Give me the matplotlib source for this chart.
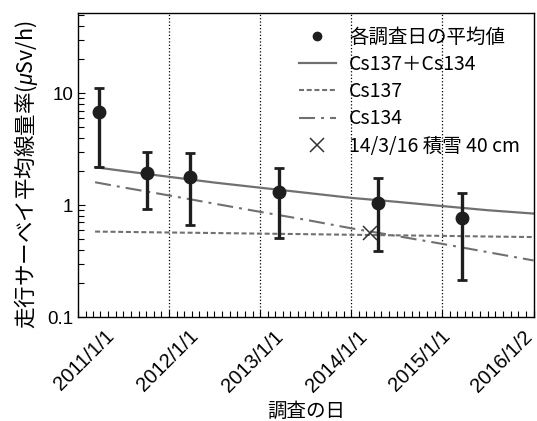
import datetime as dt
import matplotlib
matplotlib.use('Agg')
import matplotlib.pyplot as plt
import matplotlib.dates as mdates
import matplotlib.transforms as mtransforms
from matplotlib.lines import Line2D

plt.rcParams['font.family'] = ['Liberation Sans', 'Noto Sans CJK JP']
plt.rcParams['mathtext.fontset'] = 'custom'
plt.rcParams['mathtext.it'] = 'Liberation Sans:italic'
plt.rcParams['mathtext.rm'] = 'Liberation Sans'

# survey means with min / max
survey_dates = [dt.date(2011, 3, 25), dt.date(2011, 10, 5), dt.date(2012, 3, 24),
                dt.date(2013, 3, 19), dt.date(2014, 4, 19), dt.date(2015, 3, 22)]
survey_mean = [6.8, 1.93, 1.77, 1.31, 1.04, 0.77]
survey_low = [2.2, 0.92, 0.66, 0.51, 0.39, 0.215]
survey_high = [11.2, 3.0, 2.93, 2.16, 1.73, 1.29]

# snow day
snow_date = [dt.date(2014, 3, 16)]
snow_value = [0.56]

# decay curves
curve_dates = [dt.date(2011, 3, 11), dt.date(2011, 7, 1), dt.date(2012, 1, 1),
               dt.date(2012, 7, 1), dt.date(2013, 1, 1), dt.date(2013, 7, 1),
               dt.date(2014, 1, 1), dt.date(2014, 7, 1), dt.date(2015, 1, 1),
               dt.date(2015, 7, 1), dt.date(2016, 1, 1)]
cs_total = [2.18, 2.02, 1.79, 1.59, 1.43, 1.29, 1.16, 1.07, 0.98, 0.90, 0.84]
cs137 = [0.58, 0.576, 0.569, 0.563, 0.556, 0.550, 0.543, 0.537, 0.531, 0.524, 0.518]
cs134 = [1.60, 1.44, 1.22, 1.03, 0.87, 0.74, 0.62, 0.53, 0.45, 0.38, 0.32]

tick_dates = [dt.date(y, 1, 1) for y in range(2011, 2016)] + [dt.date(2016, 1, 2)]
tick_labels = ['2011/1/1', '2012/1/1', '2013/1/1', '2014/1/1', '2015/1/1', '2016/1/2']

fig = plt.figure(figsize=(5.37, 4.21), dpi=100)
ax = fig.add_axes([0.145, 0.247, 0.849, 0.722])

grey = '#707070'
dash137 = (0, (2.4, 1.3))
dash134 = (0, (7.7, 2.9, 1.4, 2.9))
ax.plot(curve_dates, cs_total, color=grey, lw=1.6, ls='-')
ax.plot(curve_dates, cs137, color=grey, lw=1.5, ls=dash137)
ax.plot(curve_dates, cs134, color=grey, lw=1.5, ls=dash134)

yerr = [[m - lo for m, lo in zip(survey_mean, survey_low)],
        [hi - m for m, hi in zip(survey_mean, survey_high)]]
ax.errorbar(survey_dates, survey_mean, yerr=yerr, fmt='o', color='#1e1e1e',
            ms=9, elinewidth=2.4, capsize=3.5, capthick=2, zorder=5)
ax.plot(snow_date, snow_value, 'x', color='#333333', ms=10, mew=1.1, zorder=6)

for d in tick_dates[1:5]:
    ax.axvline(d, color='black', ls=':', lw=0.9, zorder=1)

ax.set_yscale('log')
ax.set_ylim(0.1, 52)
ax.set_xlim(dt.date(2011, 1, 1), dt.date(2016, 1, 2))
ax.set_yticks([0.1, 1, 10])
ax.set_yticklabels(['0.1', '1', '10'])
ax.set_xticks(tick_dates)
ax.set_xticklabels(tick_labels, rotation=45, ha='right', va='top',
                   rotation_mode='anchor')
ax.xaxis.set_minor_locator(mdates.MonthLocator())
ax.tick_params(which='both', direction='in', labelsize=13.5, width=0.8)
ax.tick_params(which='major', length=5)
ax.tick_params(which='minor', length=4)
ax.tick_params(axis='x', which='major', pad=7, labelsize=14.5)
ax.tick_params(axis='y', which='major', pad=3.5)
for s in ax.spines.values():
    s.set_linewidth(1.0)

# the date labels sit a little right of their ticks, less so towards the right
shift_px = [27, 20, 13, 6, -2, -11]
for lab, dx in zip(ax.get_xticklabels(), shift_px):
    lab.set_transform(lab.get_transform() +
                      mtransforms.ScaledTranslation(dx / 100, 0, fig.dpi_scale_trans))

ax.set_xlabel('調査の日', fontsize=14, family='Noto Sans CJK JP')
ax.xaxis.set_label_coords(0.5, -0.275)
ax.set_ylabel('走行サーベイ平均線量率($\\mathit{\\mu}$Sv/h)', fontsize=15.5,
              family='Noto Sans CJK JP')
ax.yaxis.set_label_coords(-0.083, 0.467)

handles = [
    Line2D([], [], marker='o', ls='none', color='#1e1e1e', ms=6),
    Line2D([], [], color=grey, lw=1.6, ls='-'),
    Line2D([], [], color=grey, lw=1.5, ls=dash137),
    Line2D([], [], color=grey, lw=1.5, ls=dash134),
    Line2D([], [], marker='x', ls='none', color='#333333', ms=10, mew=1.1),
]
labels = ['各調査日の平均値', 'Cs137＋Cs134', 'Cs137', 'Cs134', '14/3/16 積雪 40 cm']
ax.legend(handles, labels, loc='upper right', frameon=False,
          prop={'family': 'Noto Sans CJK JP', 'size': 14},
          handlelength=1.9, handletextpad=0.7, labelspacing=0.32,
          borderaxespad=0.2, borderpad=0.5)

fig.savefig('out.png', dpi=100)
